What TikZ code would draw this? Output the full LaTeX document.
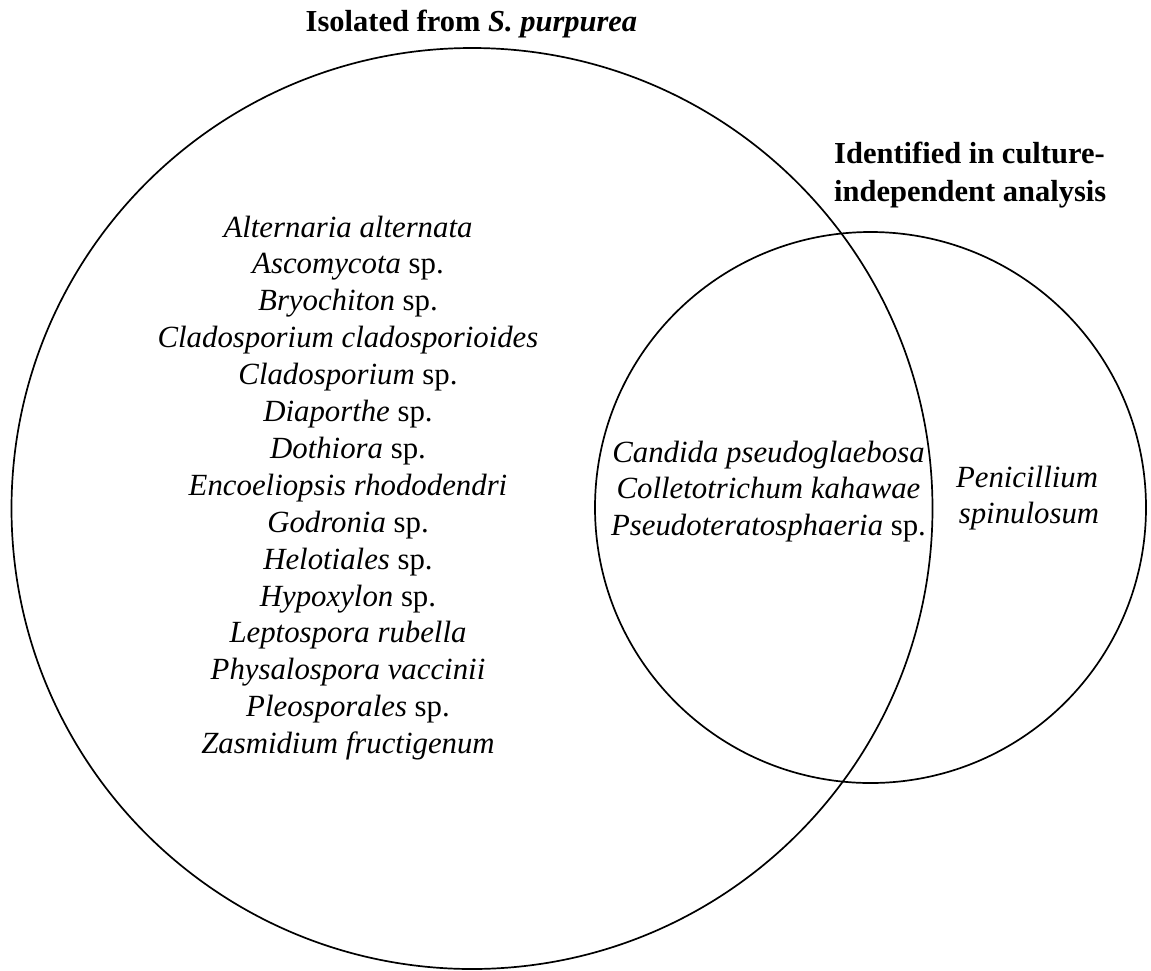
\documentclass[tikz,border=0pt]{standalone}
\usepackage{fontspec}
\setmainfont{Liberation Serif}
\begin{document}
\begin{tikzpicture}[x=1pt,y=-1pt,
  ring/.style={draw=black,line width=1.7pt,circle,inner sep=0pt},
  title/.style={font=\fontsize{30.5}{38}\selectfont\bfseries,inner sep=0pt,anchor=base},
  taxa/.style={font=\fontsize{30.8}{37}\selectfont,inner sep=0pt,anchor=base}]
\useasboundingbox (0,0) rectangle (1151,970);
\node[ring,minimum size=921pt] (big) at (472,508.5) {};
\node[ring,minimum size=551pt] (small) at (870.5,507.5) {};
\node[title] (t1) at (471.5,31) {Isolated from \textit{S. purpurea}};
\node[title,anchor=base west] (t2a) at (834,163) {Identified in culture-};
\node[title,anchor=base west] (t2b) at (834,201) {independent analysis};
\foreach \t [count=\i] in {%
  \textit{Alternaria alternata},
  \textit{Ascomycota} sp.,
  \textit{Bryochiton} sp.,
  \textit{Cladosporium cladosporioides},
  \textit{Cladosporium} sp.,
  \textit{Diaporthe} sp.,
  \textit{Dothiora} sp.,
  \textit{Encoeliopsis rhododendri},
  \textit{Godronia} sp.,
  \textit{Helotiales} sp.,
  \textit{Hypoxylon} sp.,
  \textit{Leptospora rubella},
  \textit{Physalospora vaccinii},
  \textit{Pleosporales} sp.,
  \textit{Zasmidium fructigenum}}
  \node[taxa] (l\i) at (348,{237+36.9*(\i-1)}) {\t};
\node[taxa] (s1) at (768.5,462) {\textit{Candida pseudoglaebosa}};
\node[taxa] (s2) at (768.5,498.5) {\textit{Colletotrichum kahawae}};
\node[taxa] (s3) at (768.5,535) {\textit{Pseudoteratosphaeria} sp.};
\node[taxa] (p1) at (1027,487) {\textit{Penicillium}};
\node[taxa] (p2) at (1029,523) {\textit{spinulosum}};
\end{tikzpicture}
\end{document}
